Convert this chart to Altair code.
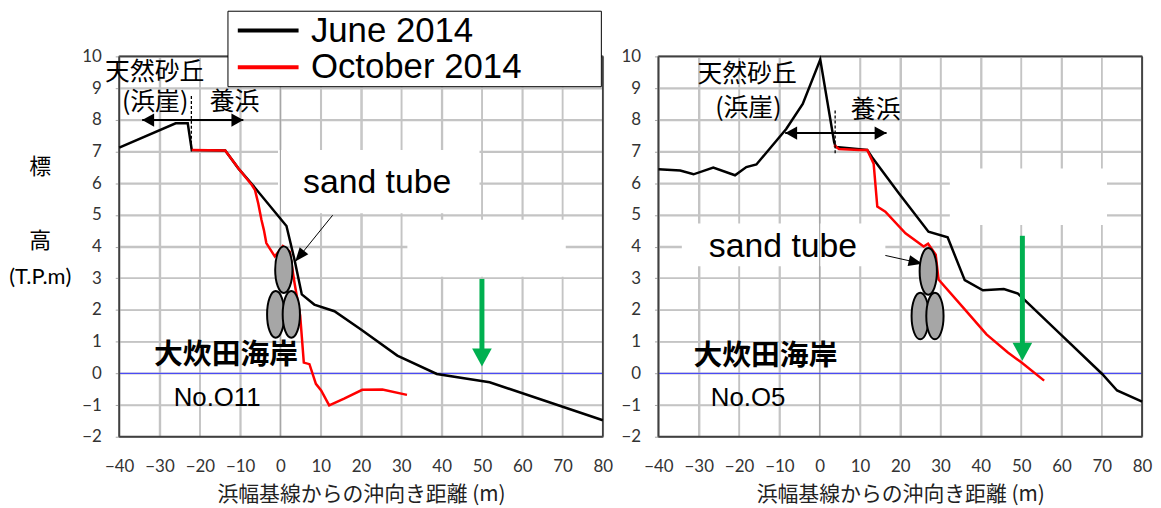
import altair as alt
import pandas as pd

# ---------------- data ----------------
X_DOM = [-40, 80]
Y_DOM = [-2, 10]
X_TICKS = [-40, -30, -20, -10, 0, 10, 20, 30, 40, 50, 60, 70, 80]
Y_TICKS = [-2, -1, 0, 1, 2, 3, 4, 5, 6, 7, 8, 9, 10]
SERIES = ["June 2014", "October 2014"]
X_TITLE = "浜幅基線からの沖向き距離 (m)"
BLANK = "\u2800"
Y_TITLE = ["標", BLANK, "高", "(T.P.m)"]

# Profile No.O11 (left)
o11_june_x = [-40, -26, -23, -22, -13.7, -10.4, -7.2, 1.5, 3.5, 5.3, 8.4, 13.4, 19.9, 29.0, 38.8, 51.9, 80]
o11_june_y = [7.12, 7.89, 7.89, 7.05, 7.03, 6.46, 5.99, 4.65, 3.58, 2.49, 2.17, 1.96, 1.39, 0.56, -0.02, -0.28, -1.48]
o11_oct_x = [-22, -13.7, -10.4, -7.2, -6.3, -5.5, -4.7, -4.1, -3.5, -1.4, 0.6, 2.3, 3.5, 4.9, 5.4, 5.8, 7.2, 8.8, 10.1, 12.1, 15.8, 20.3, 25.3, 31.4]
o11_oct_y = [7.05, 7.03, 6.46, 5.96, 5.78, 5.36, 4.84, 4.52, 4.11, 3.69, 4.02, 3.84, 2.85, 1.82, 1.0, 0.34, 0.29, -0.33, -0.54, -1.01, -0.80, -0.52, -0.51, -0.68]

# Profile No.O5 (right)
o5_june_x = [-40, -34.6, -31.3, -26.4, -21.0, -18.2, -15.7, -8.3, -4.2, 0.15, 3.6, 4.0, 11.8, 13.0, 19.6, 27.0, 31.75, 36.0, 40.5, 45.7, 49.2, 59.8, 70.1, 73.8, 80]
o5_june_y = [6.44, 6.40, 6.28, 6.49, 6.25, 6.51, 6.59, 7.71, 8.5, 9.9, 7.29, 7.14, 7.05, 6.82, 5.69, 4.47, 4.29, 2.94, 2.62, 2.66, 2.52, 1.23, -0.02, -0.54, -0.89]
o5_oct_x = [3.6, 4.8, 9.8, 11.8, 13.4, 14.3, 16.3, 21.3, 25.8, 26.9, 28.8, 29.5, 36.0, 41.4, 46.7, 50.1, 55.7]
o5_oct_y = [7.2, 7.08, 7.05, 7.05, 6.61, 5.26, 5.1, 4.42, 4.0, 4.09, 3.74, 2.96, 2.02, 1.23, 0.66, 0.34, -0.23]

# annotations (data coordinates)
o11_masks_x = [-0.6, 31.5]; o11_masks_x2 = [49.4, 70.8]
o11_masks_y = [5.05, 3.05]; o11_masks_y2 = [7.05, 4.85]
o5_masks_x = [-34.2, 32.3]; o5_masks_x2 = [16.3, 71.3]
o5_masks_y = [3.38, 4.68]; o5_masks_y2 = [4.73, 6.46]

o11_tubes_x = [0.84, -1.17, 2.7]; o11_tubes_y = [3.27, 1.86, 1.86]
o5_tubes_x = [26.95, 24.95, 28.6]; o5_tubes_y = [3.22, 1.81, 1.81]

o11_cjk_text = ["天然砂丘", "(浜崖)", "養浜"]
o11_cjk_x = [-31.2, -31.1, -11.4]; o11_cjk_y = [9.51, 8.57, 8.56]
o5_cjk_text = ["天然砂丘", "(浜崖)", "養浜"]
o5_cjk_x = [-18.0, -17.7, 13.9]; o5_cjk_y = [9.44, 8.37, 8.31]

o11_tube_label = [24.0, 6.0]; o5_tube_label = [-9.1, 4.0]
o11_site = [-13.5, 0.59]; o5_site = [-13.45, 0.55]
o11_no = ["No.O11", -15.7, -0.78]; o5_no = ["No.O5", -17.76, -0.78]

# dashed boundary lines: x, y_top, y_bottom
o11_dash = [-22.1, 8.75, 7.0]; o5_dash = [3.84, 8.29, 6.93]
# double arrow: x_left, x_right, y
o11_dbl = [-34.3, -9.2, 7.99]; o5_dbl = [-8.55, 16.6, 7.58]
# green arrow: x, y_top, y_shaft_end, y_tip
o11_green = [50.0, 2.98, 0.75, 0.22]; o5_green = [50.3, 4.34, 0.92, 0.40]
# sand tube pointer: x_start, y_start, x_tip, y_tip, angle
o11_ptr = [12.96, 4.99, 3.68, 3.53, 219]; o5_ptr = [16.3, 3.72, 25.5, 3.46, 102.7]

CJK = "Noto Sans CJK JP"
LAT = "Liberation Sans"
ELLIPSE = ("M0,-1 C0.2044,-1 0.37,-0.5523 0.37,0 C0.37,0.5523 0.2044,1 0,1 "
           "C-0.2044,1 -0.37,0.5523 -0.37,0 C-0.37,-0.5523 -0.2044,-1 0,-1 Z")
HEAD_WIDE = "M0,0 L0.55,1 L-0.55,1 Z"
HEAD_THIN = "M0,0 L0.4,1 L-0.4,1 Z"
LEG_LINE = "M-1.8,0 H1.8"
GREEN = "#00b050"
GRID = "#c4c4c4"
FRAME = "#404040"


def seg_table(xs, x2s, ys, y2s):
    return pd.DataFrame({"x": xs, "x2": x2s, "y": ys, "y2": y2s})


def panel(jx, jy, ox, oy, mx, mx2, my, my2, tx, ty, cjk_t, cjk_x, cjk_y,
          tube_lab, site, no, dash, dbl, green, ptr, first):
    xaxis = alt.Axis(values=X_TICKS, title=X_TITLE, grid=True, gridColor=GRID, gridWidth=1.5,
                     ticks=False, domain=False, labelFont="Lato", labelFontSize=17,
                     labelColor="#333333", labelPadding=22, labelOverlap=False,
                     labelFlush=False, titleFont=CJK,
                     titleFontSize=21, titleFontWeight="normal", titleColor="#222222",
                     titlePadding=9)
    if first:
        yaxis = alt.Axis(values=Y_TICKS, title=Y_TITLE, grid=True, gridColor=GRID, gridWidth=1.5,
                         tickSize=4, tickColor="#a6a6a6", domain=False, labelFont="Lato",
                         labelFontSize=17, labelColor="#333333", labelPadding=14,
                         labelOverlap=False, labelFlush=False,
                         titleAngle=0, titleX=-80, titleY=101, titleBaseline="top",
                         titleAlign="center", titleLineHeight=37,
                         titleFont="Lato, 'Noto Sans CJK JP'", titleFontSize=22,
                         titleFontWeight="normal", titleColor="black")
    else:
        yaxis = alt.Axis(values=Y_TICKS, title="", grid=True, gridColor=GRID, gridWidth=1.5,
                         tickSize=4, tickColor="#a6a6a6", domain=False, labelFont="Lato",
                         labelFontSize=17, labelColor="#333333", labelPadding=14,
                         labelOverlap=False, labelFlush=False)
    xs = alt.Scale(domain=X_DOM, nice=False, zero=False)
    ys = alt.Scale(domain=Y_DOM, nice=False, zero=False)
    X = alt.X("x:Q", scale=xs, axis=xaxis)
    Y = alt.Y("y:Q", scale=ys, axis=yaxis)
    X2 = alt.X2("x2:Q")
    Y2 = alt.Y2("y2:Q")

    def seg(x, x2, y, y2, color, width, dash_pat=None):
        kw = dict(color=color, strokeWidth=width)
        if dash_pat is not None:
            kw["strokeDash"] = dash_pat
        return alt.Chart(seg_table([x], [x2], [y], [y2])).mark_rule(**kw).encode(
            x=X, x2=X2, y=Y, y2=Y2)

    layers = []
    for v in X_TICKS:
        layers.append(seg(v, v, Y_DOM[0], Y_DOM[1], GRID, 1.5))
    for v in Y_TICKS:
        layers.append(seg(X_DOM[0], X_DOM[1], v, v, GRID, 1.5))
    layers.append(alt.Chart(seg_table(mx, mx2, my, my2)).mark_rect(
        color="white").encode(x=X, x2=X2, y=Y, y2=Y2))
    layers.append(seg(0, 0, Y_DOM[0], Y_DOM[1], "#a6a6a6", 1.2))
    layers.append(seg(X_DOM[0], X_DOM[1], 0, 0, "#3333ff", 1))
    layers.append(seg(X_DOM[0], X_DOM[0], Y_DOM[0], Y_DOM[1], FRAME, 1.8))
    layers.append(seg(X_DOM[1], X_DOM[1], Y_DOM[0], Y_DOM[1], FRAME, 1.8))
    layers.append(seg(X_DOM[0], X_DOM[1], Y_DOM[0], Y_DOM[0], FRAME, 1.8))
    layers.append(seg(X_DOM[0], X_DOM[1], Y_DOM[1], Y_DOM[1], FRAME, 1.8))

    prof = pd.DataFrame({
        "x": jx + ox, "y": jy + oy,
        "series": [SERIES[0]] * len(jx) + [SERIES[1]] * len(ox),
        "i": list(range(len(jx))) + list(range(len(ox))),
    })
    legend = alt.Legend(title=None, orient="none", legendX=109, legendY=-46,
                        symbolType=LEG_LINE, symbolSize=1156, symbolStrokeWidth=4,
                        symbolOffset=21,
                        labelFontSize=35, labelFont=LAT, labelColor="black",
                        labelOffset=24, labelLimit=600, strokeColor="black",
                        fillColor="white", padding=1, rowPadding=-4,
                        labelExpr="datum.label + '" + BLANK * 3 + "'")
    layers.append(alt.Chart(prof).mark_line(strokeWidth=2.5).encode(
        x=X, y=Y, order="i:Q",
        color=alt.Color("series:N", scale=alt.Scale(domain=SERIES, range=["#000000", "#ff0000"]),
                        legend=legend if first else None)))

    layers.append(seg(dash[0], dash[0], dash[1], dash[2], "black", 1.3, [3, 2]))
    layers.append(seg(dbl[0], dbl[1], dbl[2], dbl[2], "black", 2))
    layers.append(alt.Chart(pd.DataFrame({"x": [dbl[0], dbl[1]], "y": [dbl[2], dbl[2]], "a": [270, 90]})).mark_point(
        shape=HEAD_WIDE, size=576, filled=True, color="black", opacity=1, strokeWidth=0).encode(
        x=X, y=Y, angle=alt.Angle("a:Q", scale=None)))

    layers.append(seg(green[0], green[0], green[1], green[2], GREEN, 5))
    layers.append(alt.Chart(pd.DataFrame({"x": [green[0]], "y": [green[3]], "a": [180]})).mark_point(
        shape=HEAD_WIDE, size=1296, filled=True, color=GREEN, opacity=1, strokeWidth=0).encode(
        x=X, y=Y, angle=alt.Angle("a:Q", scale=None)))

    layers.append(seg(ptr[0], ptr[2], ptr[1], ptr[3], "black", 1))
    layers.append(alt.Chart(pd.DataFrame({"x": [ptr[2]], "y": [ptr[3]], "a": [ptr[4]]})).mark_point(
        shape=HEAD_THIN, size=784, filled=True, color="black", opacity=1, strokeWidth=0).encode(
        x=X, y=Y, angle=alt.Angle("a:Q", scale=None)))

    layers.append(alt.Chart(pd.DataFrame({"x": tx, "y": ty})).mark_point(
        shape=ELLIPSE, size=2209, filled=True, color="#a6a6a6", stroke="black",
        strokeWidth=2, opacity=1).encode(x=X, y=Y))

    layers.append(alt.Chart(pd.DataFrame({"x": cjk_x, "y": cjk_y, "t": cjk_t})).mark_text(
        font=CJK, fontSize=25, color="black", align="center", baseline="middle").encode(
        x=X, y=Y, text="t:N"))
    layers.append(alt.Chart(pd.DataFrame({"x": [tube_lab[0]], "y": [tube_lab[1]], "t": ["sand tube"]})).mark_text(
        font=LAT, fontSize=34, color="black", align="center", baseline="middle").encode(
        x=X, y=Y, text="t:N"))
    layers.append(alt.Chart(pd.DataFrame({"x": [site[0]], "y": [site[1]], "t": ["大炊田海岸"]})).mark_text(
        font=CJK, fontSize=29, fontWeight="bold", color="black", align="center", baseline="middle").encode(
        x=X, y=Y, text="t:N"))
    layers.append(alt.Chart(pd.DataFrame({"x": [no[1]], "y": [no[2]], "t": [no[0]]})).mark_text(
        font=LAT, fontSize=26, color="black", align="center", baseline="middle").encode(
        x=X, y=Y, text="t:N"))

    return alt.layer(*layers).properties(width=487, height=383)


left = panel(o11_june_x, o11_june_y, o11_oct_x, o11_oct_y,
             o11_masks_x, o11_masks_x2, o11_masks_y, o11_masks_y2,
             o11_tubes_x, o11_tubes_y, o11_cjk_text, o11_cjk_x, o11_cjk_y,
             o11_tube_label, o11_site, o11_no, o11_dash, o11_dbl, o11_green, o11_ptr, True)
right = panel(o5_june_x, o5_june_y, o5_oct_x, o5_oct_y,
              o5_masks_x, o5_masks_x2, o5_masks_y, o5_masks_y2,
              o5_tubes_x, o5_tubes_y, o5_cjk_text, o5_cjk_x, o5_cjk_y,
              o5_tube_label, o5_site, o5_no, o5_dash, o5_dbl, o5_green, o5_ptr, False)

chart = alt.hconcat(left, right, spacing=6).properties(padding=0).configure_view(
    stroke=FRAME, strokeWidth=1.5)

chart.save("out.html", embed_options={"renderer": "svg", "actions": False})
